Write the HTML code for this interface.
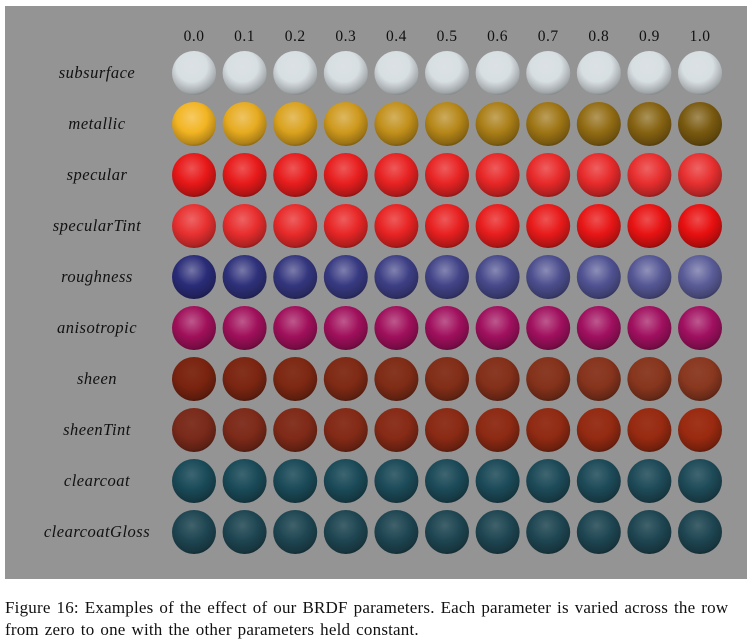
<!DOCTYPE html>
<html><head><meta charset="utf-8"><style>
html,body{margin:0;padding:0;background:#fff;width:755px;height:642px;overflow:hidden}
#cap{position:absolute;left:5px;top:597px;font-family:"Liberation Serif",serif;font-size:17px;line-height:22px;color:#111;white-space:nowrap;letter-spacing:0.2px;word-spacing:1.5px}
</style></head><body>
<svg id="fig" width="755" height="642" style="position:absolute;left:0;top:0">
<rect x="5" y="6" width="742" height="573" fill="#949494"/>
<defs id="defs"></defs>
<g id="cells"></g>
</svg>
<div id="cap">Figure 16: Examples of the effect of our BRDF parameters. Each parameter is varied across the row<br>from zero to one with the other parameters held constant.</div>
<script>
const columns=["0.0","0.1","0.2","0.3","0.4","0.5","0.6","0.7","0.8","0.9","1.0"];
const rows=["subsurface","metallic","specular","specularTint","roughness","anisotropic","sheen","sheenTint","clearcoat","clearcoatGloss"];
const rowStart=["#d8dfe2","#f2b422","#e81818","#e83030","#2a2c78","#a0105a","#7a2410","#7a2a1a","#1a4a58","#1e4652"];
const rowEnd=["#d8dfe2","#7a5a10","#e83030","#e81010","#5a5c98","#a01060","#8a3820","#9a2a10","#1e4a58","#1e4652"];
const rowShine=[0.15,0.6,0.5,0.5,0.7,0.6,0.1,0.1,0.3,0.3];
const svg=document.getElementById('fig'),defs=document.getElementById('defs'),g=document.getElementById('cells');
const NS="http://www.w3.org/2000/svg";
const x0=194,dx=50.6,y0=73,dy=51.0,R=22;
function mix(a,b,t){const p=s=>[1,3,5].map(i=>parseInt(s.substr(i,2),16));const A=p(a),B=p(b);return 'rgb('+A.map((v,i)=>Math.round(v+(B[i]-v)*t)).join(',')+')';}
function shade(c,f){const m=c.match(/\d+/g).map(Number);return 'rgb('+m.map(v=>Math.round(f>1?v+(255-v)*(f-1):v*f)).join(',')+')';}
columns.forEach((c,j)=>{
  const t=document.createElementNS(NS,'text');
  
  
  t.setAttribute('x',x0+j*dx);t.setAttribute('y',41);t.setAttribute('text-anchor','middle');
  t.setAttribute('font-family','Liberation Serif, serif');t.setAttribute('font-size','15.5');t.setAttribute('fill','#111');t.setAttribute('letter-spacing','0.5');
  t.textContent=c;svg.appendChild(t);
});
rows.forEach((r,i)=>{
  const cy=y0+i*dy;
  const t=document.createElementNS(NS,'text');
  
  
  t.setAttribute('x',97);t.setAttribute('y',cy+5);t.setAttribute('text-anchor','middle');
  t.setAttribute('font-family','Liberation Serif, serif');t.setAttribute('font-style','italic');t.setAttribute('font-size','16.5');t.setAttribute('fill','#111');t.setAttribute('letter-spacing','0.5');
  t.textContent=r;svg.appendChild(t);
  columns.forEach((c,j)=>{
    const base=mix(rowStart[i],rowEnd[i],j/(columns.length-1));
    const id='gr'+i+'_'+j;
    const gr=document.createElementNS(NS,'radialGradient');
    gr.setAttribute('id',id);gr.setAttribute('cx','0.45');gr.setAttribute('cy','0.35');gr.setAttribute('r','0.7');
    [[0,shade(base,1+rowShine[i]*0.5)],[0.5,base],[0.85,shade(base,0.75)],[1,shade(base,0.5)]].forEach(([o,col])=>{
      const s=document.createElementNS(NS,'stop');s.setAttribute('offset',o);s.setAttribute('stop-color',col);gr.appendChild(s);});
    defs.appendChild(gr);
    const s=document.createElementNS(NS,'circle');
    
    
    s.setAttribute('cx',x0+j*dx);s.setAttribute('cy',cy);s.setAttribute('r',R);s.setAttribute('fill','url(#'+id+')');
    g.appendChild(s);
  });
});
</script>
</body></html>
